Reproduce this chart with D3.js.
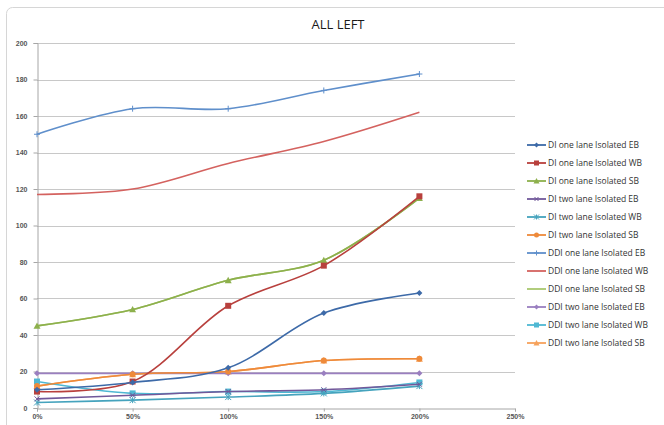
<!DOCTYPE html>
<html>
<head>
<meta charset="utf-8">
<script src="https://cdn.jsdelivr.net/npm/d3@7"></script>
<style>
  body { margin: 0; background: #fff; }
  svg { display: block; font-family: "Open Sans", "Liberation Sans", sans-serif; }
</style>
</head>
<body>
<svg id="chart"></svg>
<script>
// x categories (load level)
let categories = [0, 0.5, 1, 1.5, 2]
let xTicks = [0, 0.5, 1, 1.5, 2, 2.5]
let yTicks = [0, 20, 40, 60, 80, 100, 120, 140, 160, 180, 200]

let seriesNames = [
  "DI one lane Isolated EB", "DI one lane Isolated WB", "DI one lane Isolated SB",
  "DI two lane Isolated EB", "DI two lane Isolated WB", "DI two lane Isolated SB",
  "DDI one lane Isolated EB", "DDI one lane Isolated WB", "DDI one lane Isolated SB",
  "DDI two lane Isolated EB", "DDI two lane Isolated WB", "DDI two lane Isolated SB"
]

let diOneEB = [10, 14, 22, 52, 63]
let diOneWB = [9, 14.5, 56, 78, 116]
let diOneSB = [45, 54, 70, 81, 115]
let diTwoEB = [5, 7, 9, 10, 13]
let diTwoWB = [3, 4.3, 6, 8, 12]
let diTwoSB = [12, 18.5, 20, 26, 27]
let ddiOneEB = [150, 164, 164, 174, 183]
let ddiOneWB = [117, 120, 134, 146, 162]
let ddiOneSB = [45, 54, 70, 81, 115]
let ddiTwoEB = [19, 19, 19, 19, 19]
let ddiTwoWB = [14.5, 8, 9, 9, 14]
let ddiTwoSB = [12, 18.5, 20, 26, 27]

let seriesValues = [diOneEB, diOneWB, diOneSB, diTwoEB, diTwoWB, diTwoSB,
  ddiOneEB, ddiOneWB, ddiOneSB, ddiTwoEB, ddiTwoWB, ddiTwoSB]

let colors = ["#3d6aa8", "#b8403d", "#8db04c", "#71589a", "#45a3bd", "#ee8a3a",
  "#5f8fcb", "#d4625f", "#a9c86f", "#9a7fc0", "#4fb8d3", "#f6a25c"]
let markers = ["diamond", "square", "triangle", "x", "star", "circle",
  "plus", "none", "none", "diamond", "square", "triangle"]

let width = 664, height = 425
let svg = d3.select("#chart").attr("width", width).attr("height", height)

// chart border
svg.append("rect")
  .attr("x", 6.5).attr("y", 7.5).attr("width", 680).attr("height", 440)
  .attr("rx", 6).attr("fill", "none").attr("stroke", "#d6d6d6")

let margin = { left: 37, right: 149, top: 43, bottom: 17 }

let x = d3.scaleLinear().domain([0, 2.5]).range([margin.left, width - margin.right])
let y = d3.scaleLinear().domain([0, 200]).range([height - margin.bottom, margin.top])

// gridlines
svg.append("g").selectAll("line")
  .data(yTicks.slice(1))
  .enter().append("line")
  .attr("x1", x(0)).attr("x2", x(2.5))
  .attr("y1", d => Math.round(y(d)) + 0.5).attr("y2", d => Math.round(y(d)) + 0.5)
  .attr("stroke", "#c8c8c8").attr("stroke-width", 1.2)

let yAxis = svg.append("g")
  .attr("transform", "translate(" + (x(0) + 0.5) + ",0)")
  .call(d3.axisLeft(y).tickValues(yTicks).tickSize(4).tickPadding(6))
let xAxis = svg.append("g")
  .attr("transform", "translate(0," + (Math.round(y(0)) + 0.5) + ")")
  .call(d3.axisBottom(x).tickValues(xTicks).tickSize(3).tickPadding(3)
    .tickFormat(d => Math.round(d * 100) + "%"))

svg.selectAll(".domain, .tick line").attr("stroke", "#a6a6a6")
svg.selectAll(".tick text")
  .attr("fill", "#555").attr("font-size", 7).attr("font-weight", "bold")

// title
svg.append("text")
  .attr("x", 338).attr("y", 29)
  .attr("text-anchor", "middle")
  .attr("font-size", 13)
  .attr("fill", "#1a1a1a")
  .text("ALL LEFT")

let line = d3.line()
  .x((d, i) => x(categories[i]))
  .y(d => y(d))
  .curve(d3.curveCatmullRom.alpha(0.5))

function drawMarker(g, type, color, size) {
  let s = size
  if (type == "diamond") {
    g.append("path").attr("d", "M0," + (-s / 2) + "L" + (s / 2) + ",0L0," + (s / 2) + "L" + (-s / 2) + ",0Z")
      .attr("fill", color)
  } else if (type == "square") {
    g.append("rect").attr("x", -s / 2).attr("y", -s / 2).attr("width", s).attr("height", s)
      .attr("fill", color)
  } else if (type == "triangle") {
    g.append("path").attr("d", "M0," + (-s / 2) + "L" + (s / 2) + "," + (s / 2.4) + "L" + (-s / 2) + "," + (s / 2.4) + "Z")
      .attr("fill", color)
  } else if (type == "circle") {
    g.append("circle").attr("r", s / 2).attr("fill", color)
  } else if (type == "x") {
    let h = s / 2
    g.append("path").attr("d", "M" + (-h) + "," + (-h) + "L" + h + "," + h + "M" + (-h) + "," + h + "L" + h + "," + (-h))
      .attr("fill", "none").attr("stroke", color).attr("stroke-width", 1)
  } else if (type == "star") {
    let h = s / 2
    g.append("path").attr("d", "M" + (-h) + "," + (-h) + "L" + h + "," + h + "M" + (-h) + "," + h + "L" + h + "," + (-h) + "M0," + (-h) + "V" + h)
      .attr("fill", "none").attr("stroke", color).attr("stroke-width", 1)
  } else if (type == "plus") {
    g.append("path").attr("d", "M" + (-s / 2) + ",0H" + (s / 2) + "M0," + (-s / 2) + "V" + (s / 2))
      .attr("fill", "none").attr("stroke", color).attr("stroke-width", 1)
  }
}

let sizes = { diamond: 6, square: 6, triangle: 7, circle: 6, x: 5, star: 6, plus: 6 }

// DI series drawn last so they sit on top
let plot = svg.append("g")
let order = d3.range(seriesValues.length).reverse()
order.forEach(function (si) {
  let vals = seriesValues[si]
  let g = plot.append("g")
  g.append("path")
    .datum(vals)
    .attr("d", line)
    .attr("fill", "none")
    .attr("stroke", colors[si])
    .attr("stroke-width", 1.6)
  if (markers[si] != "none") {
    vals.forEach(function (v, i) {
      let mg = g.append("g").attr("transform", "translate(" + x(categories[i]) + "," + y(v) + ")")
      drawMarker(mg, markers[si], colors[si], sizes[markers[si]])
    })
  }
})

// legend
let legend = svg.append("g")
seriesNames.forEach(function (name, i) {
  let ly = 145 + i * 18
  let g = legend.append("g").attr("transform", "translate(527," + ly + ")")
  g.append("line").attr("x1", 0).attr("x2", 19).attr("y1", 0).attr("y2", 0)
    .attr("stroke", colors[i]).attr("stroke-width", 1.8)
  if (markers[i] != "none") {
    let mg = g.append("g").attr("transform", "translate(9.5,0)")
    drawMarker(mg, markers[i], colors[i], sizes[markers[i]] - 1)
  }
  g.append("text")
    .attr("x", 21).attr("y", 3)
    .attr("font-size", 8.5)
    .attr("fill", "#333")
    .text(name)
})
</script>
</body>
</html>
